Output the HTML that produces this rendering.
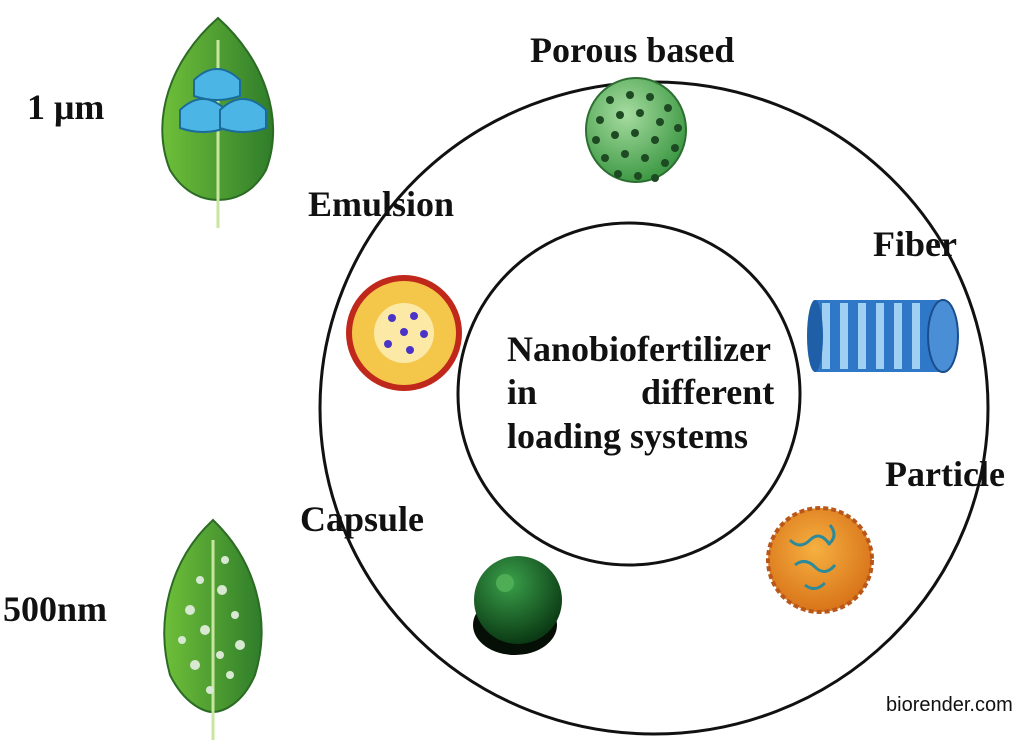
<!DOCTYPE html>
<html><head><meta charset="utf-8"><style>
body{margin:0;background:#fff;width:1024px;height:751px;overflow:hidden;position:relative;font-family:"Liberation Serif",serif;}
.t{position:absolute;font-weight:bold;font-size:36px;color:#111;white-space:nowrap;line-height:1;}
</style></head><body>
<svg width="1024" height="751" style="position:absolute;left:0;top:0">
<defs>
<radialGradient id="pg" cx="40%" cy="35%" r="65%"><stop offset="0" stop-color="#a6dca0"/><stop offset="1" stop-color="#3f9a45"/></radialGradient>
<radialGradient id="cg" cx="40%" cy="30%" r="70%"><stop offset="0" stop-color="#3aa04a"/><stop offset="1" stop-color="#0b3a14"/></radialGradient>
<radialGradient id="og" cx="45%" cy="40%" r="60%"><stop offset="0" stop-color="#f6b040"/><stop offset="1" stop-color="#d8741a"/></radialGradient>
<linearGradient id="lf" x1="0" x2="1"><stop offset="0" stop-color="#6fbf3a"/><stop offset="1" stop-color="#2f7d2a"/></linearGradient>
</defs>
<ellipse cx="654" cy="408" rx="334" ry="326" fill="none" stroke="#111" stroke-width="3"/>
<circle cx="629" cy="394" r="171" fill="none" stroke="#111" stroke-width="3"/>
<ellipse cx="636" cy="130" rx="50" ry="52" fill="url(#pg)" stroke="#2d6e32" stroke-width="2"/>
<g fill="#1d4a22">
<circle cx="610" cy="100" r="4"/><circle cx="630" cy="95" r="4"/><circle cx="650" cy="97" r="4"/><circle cx="668" cy="108" r="4"/>
<circle cx="600" cy="120" r="4"/><circle cx="620" cy="115" r="4"/><circle cx="640" cy="113" r="4"/><circle cx="660" cy="122" r="4"/><circle cx="678" cy="128" r="4"/>
<circle cx="596" cy="140" r="4"/><circle cx="615" cy="135" r="4"/><circle cx="635" cy="133" r="4"/><circle cx="655" cy="140" r="4"/><circle cx="675" cy="148" r="4"/>
<circle cx="605" cy="158" r="4"/><circle cx="625" cy="154" r="4"/><circle cx="645" cy="158" r="4"/><circle cx="665" cy="163" r="4"/>
<circle cx="618" cy="174" r="4"/><circle cx="638" cy="176" r="4"/><circle cx="655" cy="178" r="4"/>
</g>
<circle cx="404" cy="333" r="58" fill="#c0281c"/>
<circle cx="404" cy="333" r="52" fill="#f4c64a"/>
<circle cx="404" cy="333" r="30" fill="#fde9a6"/>
<g fill="#4a34c8"><circle cx="392" cy="318" r="4"/><circle cx="414" cy="316" r="4"/><circle cx="424" cy="334" r="4"/><circle cx="410" cy="350" r="4"/><circle cx="388" cy="344" r="4"/><circle cx="404" cy="332" r="4"/></g>
<rect x="815" y="300" width="128" height="72" fill="#2f78c8"/>
<g fill="#9fd0f4"><rect x="822" y="303" width="8" height="66"/><rect x="840" y="303" width="8" height="66"/><rect x="858" y="303" width="8" height="66"/><rect x="876" y="303" width="8" height="66"/><rect x="894" y="303" width="8" height="66"/><rect x="912" y="303" width="8" height="66"/></g>
<ellipse cx="815" cy="336" rx="8" ry="36" fill="#1f5fa8"/>
<ellipse cx="943" cy="336" rx="15" ry="36" fill="#4a8fd6" stroke="#1a4d8c" stroke-width="2"/>
<circle cx="820" cy="560" r="52" fill="url(#og)" stroke="#b9561a" stroke-width="4" stroke-dasharray="5 3"/>
<g stroke="#2c8a9a" stroke-width="3" fill="none"><path d="M790 540q10 10 20 0t20 5"/><path d="M795 565q10-8 20 2t20-2"/><path d="M805 585q10 8 20-2"/><path d="M830 525q8 10 0 18"/></g>
<ellipse cx="515" cy="625" rx="42" ry="30" fill="#050f06"/>
<circle cx="518" cy="600" r="44" fill="url(#cg)"/>
<circle cx="505" cy="583" r="9" fill="#4eae55"/>
<path d="M218 18C170 60 150 120 170 170C185 195 205 200 218 200C232 200 252 195 266 170C285 120 265 60 218 18Z" fill="url(#lf)" stroke="#2c6b24" stroke-width="2"/>
<path d="M218 40L218 228" stroke="#c8e6a0" stroke-width="3" fill="none"/>
<g fill="#4bb6e6" stroke="#1b6c9a" stroke-width="2"><path d="M194 80q23-22 46 0v16q-23 8-46 0z"/><path d="M180 110q23-22 46 0v18q-23 8-46 0z"/><path d="M220 110q23-22 46 0v18q-23 8-46 0z"/></g>
<path d="M213 520C170 560 155 620 170 675C185 705 205 712 213 712C222 712 242 705 255 675C272 620 255 560 213 520Z" fill="url(#lf)" stroke="#2c6b24" stroke-width="2"/>
<path d="M213 540L213 740" stroke="#c8e6a0" stroke-width="3" fill="none"/>
<g fill="#d9e8d2"><circle cx="200" cy="580" r="4"/><circle cx="222" cy="590" r="5"/><circle cx="190" cy="610" r="5"/><circle cx="235" cy="615" r="4"/><circle cx="205" cy="630" r="5"/><circle cx="182" cy="640" r="4"/><circle cx="240" cy="645" r="5"/><circle cx="220" cy="655" r="4"/><circle cx="195" cy="665" r="5"/><circle cx="230" cy="675" r="4"/><circle cx="210" cy="690" r="4"/><circle cx="225" cy="560" r="4"/></g>
</svg>
<div class="t" style="left:530px;top:32px">Porous based</div>
<div class="t" style="left:308px;top:186px">Emulsion</div>
<div class="t" style="left:873px;top:226px">Fiber</div>
<div class="t" style="left:885px;top:456px">Particle</div>
<div class="t" style="left:300px;top:501px">Capsule</div>
<div class="t" style="left:27px;top:89px">1 μm</div>
<div class="t" style="left:3px;top:591px">500nm</div>
<div class="t" style="left:507px;top:331px">Nanobiofertilizer</div>
<div class="t" style="left:507px;top:374px">in</div>
<div class="t" style="left:641px;top:374px">different</div>
<div class="t" style="left:507px;top:418px">loading systems</div>
<div style="position:absolute;left:886px;top:694px;font-family:'Liberation Sans',sans-serif;font-size:20px;color:#111">biorender.com</div>
</body></html>
